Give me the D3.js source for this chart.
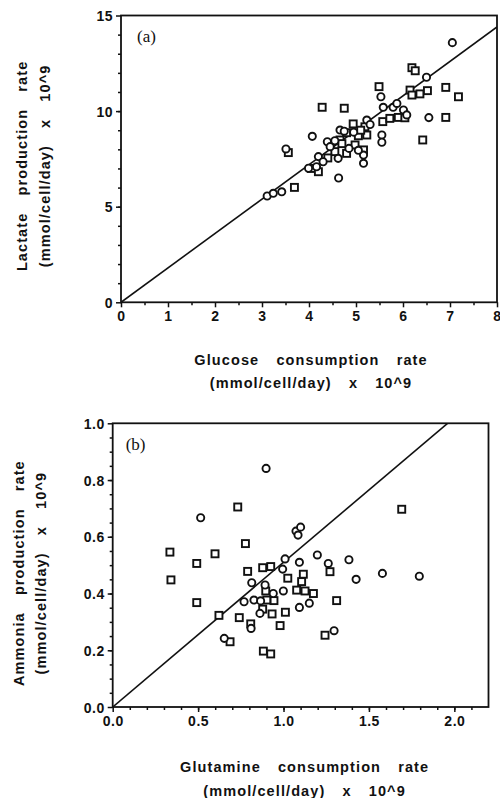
<!DOCTYPE html>
<html>
<head>
<meta charset="utf-8">
<script src="https://cdn.jsdelivr.net/npm/d3@7"></script>
<style>
  html, body { margin: 0; padding: 0; background: #fff; }
  svg { display: block; }
</style>
</head>
<body>
<div id="chart"></div>
<script>
// Panel (a): glucose consumption vs lactate production, two symbol groups
const glucoseCircles = [
  [3.11, 5.56], [3.24, 5.70], [3.42, 5.78], [3.51, 8.02], [3.99, 7.01], [4.16, 7.09],
  [4.07, 8.68], [4.20, 7.62], [4.39, 8.40], [4.45, 8.14], [4.62, 7.53], [4.63, 6.50],
  [4.66, 9.01], [4.75, 8.95], [4.85, 8.05], [5.16, 7.70], [5.16, 7.27], [5.23, 9.53],
  [5.30, 9.30], [5.53, 10.75], [5.55, 8.75], [5.55, 8.37], [5.58, 10.20], [5.79, 10.20],
  [5.87, 10.40], [6.01, 10.06], [6.08, 9.80], [6.50, 11.77], [6.55, 9.66], [7.05, 13.58],
  [4.30, 7.35], [4.55, 8.45], [4.95, 8.90], [5.05, 7.95]
];
const glucoseSquares = [
  [3.56, 7.83], [3.69, 6.01], [4.05, 7.00], [4.20, 6.83], [4.28, 10.20], [4.75, 10.15],
  [4.55, 7.88], [4.66, 8.49], [4.80, 8.87], [4.80, 7.79], [4.94, 9.33], [4.98, 8.23],
  [5.05, 8.71], [5.16, 7.97], [5.19, 9.18], [5.23, 8.75], [5.49, 11.28], [5.57, 9.45],
  [5.72, 9.62], [5.90, 9.67], [6.04, 9.65], [6.15, 11.10], [6.19, 10.84], [6.19, 12.27],
  [6.26, 12.11], [6.36, 10.90], [6.52, 11.07], [6.42, 8.49], [6.91, 11.24], [6.91, 9.67],
  [7.18, 10.75], [4.40, 7.55], [4.70, 8.30], [5.10, 9.00]
];

// Panel (b): glutamine consumption vs ammonia production
const glutamineCircles = [
  [0.898, 0.841], [0.515, 0.667], [1.073, 0.620], [1.100, 0.634], [1.085, 0.606],
  [1.009, 0.522], [1.093, 0.510], [1.198, 0.536], [1.262, 0.506], [1.383, 0.519],
  [1.425, 0.450], [1.579, 0.471], [1.795, 0.461], [0.995, 0.486], [0.814, 0.438],
  [0.892, 0.430], [0.940, 0.400], [0.999, 0.409], [0.769, 0.371], [0.827, 0.377],
  [0.866, 0.374], [0.862, 0.330], [1.093, 0.351], [1.151, 0.366], [0.653, 0.242],
  [0.810, 0.277], [1.296, 0.269]
];
const glutamineSquares = [
  [0.732, 0.705], [1.692, 0.697], [0.777, 0.576], [0.335, 0.546], [0.599, 0.540],
  [0.492, 0.506], [0.341, 0.448], [0.492, 0.368], [0.622, 0.323], [0.790, 0.478],
  [0.878, 0.491], [0.925, 0.495], [1.116, 0.468], [1.272, 0.477], [1.025, 0.454],
  [1.106, 0.442], [0.896, 0.409], [1.077, 0.412], [1.126, 0.409], [1.175, 0.400],
  [0.944, 0.375], [1.311, 0.375], [0.902, 0.377], [0.878, 0.345], [0.933, 0.328],
  [1.011, 0.334], [0.741, 0.315], [0.808, 0.293], [0.980, 0.287], [0.687, 0.230],
  [1.243, 0.253], [0.882, 0.197], [0.925, 0.187]
];

// Tick values and fitted line slopes
const glucoseTicks = [0, 1, 2, 3, 4, 5, 6, 7, 8];
const lactateTicks = [0, 5, 10, 15];
const glutamineTicks = [0, 0.5, 1.0, 1.5, 2.0];
const ammoniaTicks = [0, 0.2, 0.4, 0.6, 0.8, 1.0];
const lactateSlope = 1.8;
const ammoniaSlope = 0.51;

const sansFont = "'Liberation Sans', Arial, Helvetica, sans-serif";

const svg = d3.select("#chart")
  .append("svg")
  .attr("width", 500)
  .attr("height", 798);

function styleTitle(sel) {
  return sel
    .attr("text-anchor", "middle")
    .style("font-family", sansFont)
    .style("font-weight", "bold")
    .style("font-size", "14.5px")
    .style("letter-spacing", "1.1px")
    .style("word-spacing", "12px")
    .style("fill", "#111");
}

function drawPanel(cfg) {
  const x = d3.scaleLinear().domain(cfg.xDomain).range(cfg.xRange);
  const y = d3.scaleLinear().domain(cfg.yDomain).range(cfg.yRange);
  const g = svg.append("g");

  // minor ticks first, no labels
  g.append("g")
    .attr("transform", `translate(0,${cfg.yRange[0]})`)
    .call(d3.axisBottom(x).tickValues(cfg.xMinor).tickSize(3).tickSizeOuter(0).tickFormat(""))
    .call(a => a.select(".domain").remove());
  g.append("g")
    .attr("transform", `translate(${cfg.xRange[0]},0)`)
    .call(d3.axisLeft(y).tickValues(cfg.yMinor).tickSize(3).tickSizeOuter(0).tickFormat(""))
    .call(a => a.select(".domain").remove());

  // major ticks with labels
  const xAxis = g.append("g")
    .attr("transform", `translate(0,${cfg.yRange[0]})`)
    .call(d3.axisBottom(x).tickValues(cfg.xTicks).tickSize(5).tickPadding(4).tickSizeOuter(0).tickFormat(cfg.fmtX));
  xAxis.select(".domain").remove();
  const yAxis = g.append("g")
    .attr("transform", `translate(${cfg.xRange[0]},0)`)
    .call(d3.axisLeft(y).tickValues(cfg.yTicks).tickSize(5).tickPadding(3).tickSizeOuter(0).tickFormat(cfg.fmtY));
  yAxis.select(".domain").remove();
  g.selectAll(".tick line").attr("stroke", "#111").attr("stroke-width", 1.5);
  g.selectAll(".tick text")
    .style("font-family", sansFont)
    .style("font-weight", "bold")
    .style("font-size", "14px")
    .style("letter-spacing", "0.5px")
    .style("fill", "#111");
  yAxis.selectAll(".tick text").attr("dy", "0.36em");

  // frame
  g.append("rect")
    .attr("x", cfg.xRange[0])
    .attr("y", cfg.yRange[1])
    .attr("width", cfg.xRange[1] - cfg.xRange[0])
    .attr("height", cfg.yRange[0] - cfg.yRange[1])
    .attr("fill", "none")
    .attr("stroke", "#111")
    .attr("stroke-width", 1.8);

  // fitted line through origin, clipped to plot box
  const clipId = "clip-" + cfg.name;
  g.append("clipPath").attr("id", clipId)
    .append("rect")
    .attr("x", cfg.xRange[0])
    .attr("y", cfg.yRange[1])
    .attr("width", cfg.xRange[1] - cfg.xRange[0])
    .attr("height", cfg.yRange[0] - cfg.yRange[1]);
  const xEnd = cfg.xDomain[1];
  g.append("line")
    .attr("clip-path", `url(#${clipId})`)
    .attr("x1", x(0)).attr("y1", y(0))
    .attr("x2", x(xEnd)).attr("y2", y(xEnd * cfg.slope))
    .attr("stroke", "#111")
    .attr("stroke-width", 1.6);

  // symbols
  g.selectAll(".sq")
    .data(cfg.squares)
    .join("rect")
    .attr("class", "sq")
    .attr("x", d => x(d[0]) - 3.5)
    .attr("y", d => y(d[1]) - 3.5)
    .attr("width", 7)
    .attr("height", 7)
    .attr("fill", "#fff")
    .attr("stroke", "#111")
    .attr("stroke-width", 1.9);
  g.selectAll(".ci")
    .data(cfg.circles)
    .join("circle")
    .attr("class", "ci")
    .attr("cx", d => x(d[0]))
    .attr("cy", d => y(d[1]))
    .attr("r", 3.6)
    .attr("fill", "#fff")
    .attr("stroke", "#111")
    .attr("stroke-width", 1.9);

  // panel label
  g.append("text")
    .attr("x", cfg.xRange[0] + cfg.labelDx)
    .attr("y", cfg.yRange[1] + cfg.labelDy)
    .style("font-family", "'Liberation Serif', 'Times New Roman', serif")
    .style("font-size", "17px")
    .style("fill", "#111")
    .text(cfg.label);

  // axis titles
  const cx = (cfg.xRange[0] + cfg.xRange[1]) / 2 + cfg.titleShift;
  g.append("text").call(styleTitle)
    .attr("x", cx).attr("y", cfg.yRange[0] + cfg.xTitleDy[0]).text(cfg.xTitle[0]);
  g.append("text").call(styleTitle)
    .attr("x", cx).attr("y", cfg.yRange[0] + cfg.xTitleDy[1]).text(cfg.xTitle[1]);
  const cy = (cfg.yRange[0] + cfg.yRange[1]) / 2 + cfg.yTitleShift;
  g.append("text").call(styleTitle)
    .attr("transform", `translate(${cfg.yTitleX[0]},${cy}) rotate(-90)`).text(cfg.yTitle[0]);
  g.append("text").call(styleTitle)
    .attr("transform", `translate(${cfg.yTitleX[1]},${cy}) rotate(-90)`).text(cfg.yTitle[1]);
}

drawPanel({
  name: "a",
  xDomain: [0, 8], xRange: [121, 497],
  yDomain: [0, 15], yRange: [302.3, 15.5],
  xTicks: glucoseTicks, yTicks: lactateTicks,
  xMinor: d3.range(0.5, 8, 1), yMinor: d3.range(1, 15, 1),
  fmtX: d3.format("d"), fmtY: d3.format("d"),
  slope: lactateSlope,
  circles: glucoseCircles, squares: glucoseSquares,
  label: "(a)", labelDx: 16, labelDy: 26,
  xTitle: ["Glucose consumption rate", "(mmol/cell/day) x 10^9"],
  xTitleDy: [63, 86],
  yTitle: ["Lactate production rate", "(mmol/cell/day) x 10^9"],
  yTitleX: [27, 50], yTitleShift: 7, titleShift: 2
});

drawPanel({
  name: "b",
  xDomain: [0, 2.2], xRange: [112.7, 488.5],
  yDomain: [0, 1], yRange: [707, 423.3],
  xTicks: glutamineTicks, yTicks: ammoniaTicks,
  xMinor: d3.range(0.1, 2.2, 0.1), yMinor: d3.range(0.05, 1, 0.05),
  fmtX: d3.format(".1f"), fmtY: d3.format(".1f"),
  slope: ammoniaSlope,
  circles: glutamineCircles, squares: glutamineSquares,
  label: "(b)", labelDx: 13, labelDy: 27,
  xTitle: ["Glutamine consumption rate", "(mmol/cell/day) x 10^9"],
  xTitleDy: [65, 89],
  yTitle: ["Ammonia production rate", "(mmol/cell/day) x 10^9"],
  yTitleX: [24, 46], yTitleShift: 8, titleShift: 4
});
</script>
</body>
</html>
